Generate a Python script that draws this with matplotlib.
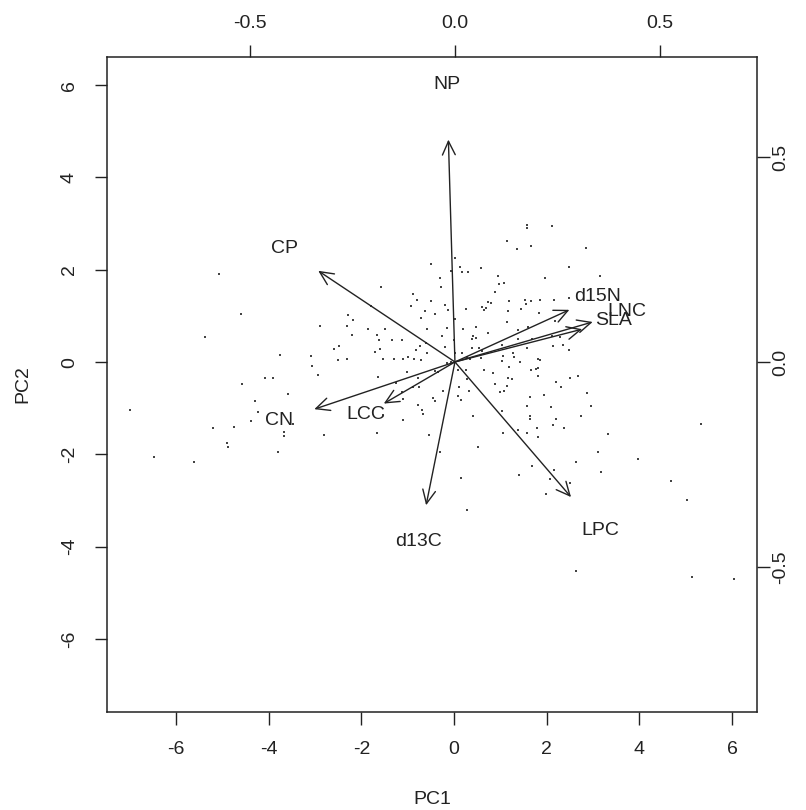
import matplotlib
matplotlib.use('Agg')
import matplotlib.pyplot as plt

plt.rcParams.update({
    "font.family": ["Liberation Sans", "DejaVu Sans"],
    "font.size": 14,
    "axes.unicode_minus": False,
})

# ─── PCA scores (observations) ───────────────────────────────────────────────
PC1 = [
    -5.07, -4.60, -5.37, -2.89, -3.76, -3.09, -3.06, -2.94, -4.08, -3.91,
    -4.58, -3.58, -6.99, -4.30, -4.23, -4.38, -5.20, -4.75, -3.48, -3.67,
    -3.67, -2.81, -4.90, -4.88, -3.80, -6.48, -5.61,
    -0.50, 0.02, -0.06, -0.30, -0.28, -1.58, -0.88, -0.80, -0.50, -0.93,
    -0.19, -0.13, -0.63, -0.41, -1.79, -2.29, -2.18, -0.71, 0.02, -2.31,
    -1.86, -1.49, -0.58, -0.15, -2.20, -1.66, -0.26, -1.62, -1.34, -1.12,
    -0.60, 0.00, -2.48, -2.59, -1.60, -0.73, -0.19, -0.82, -1.71, -0.58,
    0.02,
    -2.31, -1.53, -1.30, -1.10, -0.99, -0.86, -0.71, -2.50,
    -1.64, -1.01, -0.78, -0.41, -0.35, -0.15, -0.06, -1.25, -1.12, -0.88,
    -0.76, -0.45, -0.41, -0.24, -1.10, -0.78, -0.69, -0.67, -1.53, -1.10,
    -1.66, -0.54, -0.30, 0.28,
    1.58, 1.58, 2.12, 1.14, 1.36, 1.66, 2.85, 0.13, 0.17, 0.30,
    0.58, 2.48, 0.95, 1.96, 3.15, 0.97, 1.08, 0.88, 0.73, 0.80,
    1.19, 1.53, 1.66, 1.86, 2.16, 2.48, 0.26, 0.60, 0.69, 0.65,
    1.17, 1.45, 1.55, 1.83, 1.14, 2.18, 0.47, 0.19, 0.73, 0.41,
    0.39, 0.47, 1.38, 1.60, 1.38, 1.68, 2.12, 2.29, 1.04, 1.58,
    2.14, 2.35, 2.48, 0.39, 0.54, 0.60, 0.17, 0.28, 1.06, 1.27,
    1.30, 1.81,
    0.09, 0.26, 0.58, 0.35, 1.04, 1.42, 1.86, 0.65, 0.84, 1.19,
    1.66, 1.77, 1.81, 1.81, 0.28, 1.17, 1.25, 0.88, 1.14, 2.20,
    2.31, 2.50, 2.68, 0.11, 0.32, 0.99, 1.08, 0.09, 0.15, 1.64,
    1.94, 2.87, 1.58, 2.09, 2.96, 0.41, 1.04, 1.64, 1.64, 2.20,
    2.74, 2.14, 1.79, 2.37, 1.06, 1.38, 1.58, 1.81, 3.32, 0.52,
    3.11, 2.63, 1.68, 2.16, 3.17, 1.40, 0.15, 2.07, 2.50,
    5.33, 3.97, 4.68, 5.03, 1.99, 2.63, 5.14, 6.04,
]
PC2 = [
    1.91, 1.04, 0.54, 0.78, 0.15, 0.13, -0.09, -0.28, -0.35, -0.35,
    -0.48, -0.69, -1.04, -0.84, -1.08, -1.28, -1.43, -1.41, -1.34, -1.52,
    -1.60, -1.58, -1.75, -1.84, -1.95, -2.06, -2.17,
    2.12, 2.25, 1.97, 1.82, 1.62, 1.62, 1.47, 1.34, 1.32, 1.21,
    1.23, 1.13, 1.10, 1.04, 1.21, 1.02, 0.91, 0.95, 0.93, 0.78,
    0.71, 0.71, 0.71, 0.74, 0.58, 0.58, 0.56, 0.48, 0.48, 0.48,
    0.41, 0.48, 0.35, 0.28, 0.28, 0.35, 0.32, 0.26, 0.22, 0.19,
    0.19,
    0.06, 0.06, 0.06, 0.06, 0.11, 0.06, 0.04, 0.04,
    -0.32, -0.22, -0.35, -0.19, -0.22, -0.02, 0.00, -0.45, -0.65, -0.54,
    -0.54, -0.78, -0.84, -0.63, -0.80, -0.93, -1.04, -1.13, -1.15, -1.26,
    -1.54, -1.58, -1.95, -3.21,
    2.97, 2.90, 2.95, 2.62, 2.45, 2.51, 2.47, 2.06, 1.95, 1.95,
    2.04, 2.06, 1.86, 1.82, 1.86, 1.69, 1.71, 1.52, 1.30, 1.28,
    1.32, 1.34, 1.32, 1.34, 1.34, 1.39, 1.15, 1.19, 1.17, 1.13,
    1.10, 1.15, 1.26, 1.06, 0.87, 0.89, 0.76, 0.71, 0.63, 0.56,
    0.50, 0.52, 0.69, 0.76, 0.50, 0.50, 0.56, 0.54, 0.37, 0.30,
    0.35, 0.37, 0.26, 0.30, 0.30, 0.24, 0.19, 0.11, 0.13, 0.19,
    0.11, 0.06,
    -0.17, -0.17, 0.09, 0.06, 0.02, 0.00, 0.04, -0.17, -0.24, -0.11,
    -0.17, -0.15, -0.13, -0.30, -0.37, -0.35, -0.37, -0.48, -0.52, -0.43,
    -0.54, -0.35, -0.30, -0.54, -0.63, -0.65, -0.63, -0.74, -0.82, -0.76,
    -0.71, -0.67, -0.95, -0.97, -0.95, -1.17, -1.06, -1.17, -1.23, -1.23,
    -1.17, -1.36, -1.43, -1.43, -1.54, -1.47, -1.54, -1.62, -1.56, -1.84,
    -1.95, -2.17, -2.25, -2.34, -2.38, -2.45, -2.51, -2.53, -2.62,
    -1.34, -2.10, -2.58, -2.99, -2.86, -4.53, -4.66, -4.70,
]

# ─── Variable loadings ───────────────────────────────────────────────────────
VARS   = ["NP", "CP", "d15N", "LNC", "SLA", "CN", "LCC", "d13C", "LPC"]
LOAD_1 = [-0.020, -0.417, 0.349, 0.420, 0.388, -0.429, -0.217, -0.088, 0.354]
LOAD_2 = [0.678, 0.278, 0.159, 0.122, 0.100, -0.144, -0.127, -0.437, -0.412]

W, H = 806, 810
fig = plt.figure(figsize=(W / 100, H / 100), dpi=100)
rect = [107 / W, (H - 712) / H, (757 - 107) / W, (712 - 57) / H]
INK = '#222222'

ax = fig.add_axes(rect)
ax.scatter(PC1, PC2, marker='s', s=2.0, color='#444444', linewidths=0)
ax.set_xlim(-7.49, 6.54)
ax.set_ylim(-7.58, 6.61)
ax.set_xticks([-6, -4, -2, 0, 2, 4, 6])
ax.set_yticks([-6, -4, -2, 0, 2, 4, 6])
ax.tick_params(length=9, width=1, pad=12, color=INK, labelcolor=INK)
for lab in ax.get_yticklabels():
    lab.set_rotation(90)
    lab.set_va('center')
ax.set_xlabel("PC1", labelpad=24, color=INK)
ax.set_ylabel("PC2", labelpad=21, color=INK)
for s in ax.spines.values():
    s.set_linewidth(1.1)
    s.set_color(INK)

# loadings axis (top / right)
ax2 = fig.add_axes(rect, frameon=False)
ax2.patch.set_alpha(0)
ax2.set_xlim(-0.849, 0.737)
ax2.set_ylim(-0.854, 0.744)
ax2.xaxis.tick_top()
ax2.yaxis.tick_right()
ax2.set_xticks([-0.5, 0.0, 0.5])
ax2.set_yticks([-0.5, 0.0, 0.5])
ax2.tick_params(axis='x', length=9, width=1, pad=9, color=INK, labelcolor=INK)
ax2.tick_params(axis='y', length=9, width=1, pad=2, color=INK, labelcolor=INK)
for lab in ax2.get_yticklabels():
    lab.set_rotation(90)
    lab.set_va('center')

for name, lx, ly in zip(VARS, LOAD_1, LOAD_2):
    ax2.annotate('', xy=(0.8 * lx, 0.8 * ly), xytext=(0, 0),
                 arrowprops=dict(arrowstyle='->,head_length=0.7,head_width=0.33',
                                 lw=1.0, color=INK,
                                 shrinkA=0, shrinkB=0))
    ax2.text(lx, ly, name, ha='center', va='center', color=INK)

plt.savefig("out.png", dpi=100)
